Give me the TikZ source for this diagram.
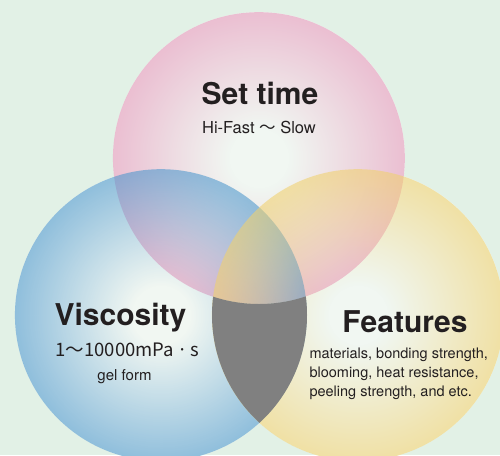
\documentclass[tikz,border=0pt]{standalone}
\usepackage{fontspec}
\setmainfont{TeX Gyre Heros}
\newfontfamily\jpfont{Noto Sans CJK JP}
\usepackage{xcolor}
\usepackage{tikz}
\usetikzlibrary{calc,fadings}
\definecolor{bgmint}{RGB}{226,241,230}
\definecolor{ballcore}{RGB}{241,247,242}
\definecolor{pinkrim}{RGB}{231,151,187}
\definecolor{bluerim}{RGB}{75,151,205}
\definecolor{yellowrim}{RGB}{240,209,110}
\definecolor{inkdark}{RGB}{35,31,32}
\definecolor{lensgray}{RGB}{128,128,128}
\pgfdeclareradialshading{rimshade}{\pgfpoint{0bp}{0bp}}{color(0bp)=(black); color(5bp)=(black); color(34bp)=(white); color(50bp)=(white)}
\pgfdeclarefading{rimfade}{\pgfuseshading{rimshade}}

\begin{document}
\begin{tikzpicture}[x=1pt,y=-1pt,
	ball/.style={fill opacity=0.85,path fading=rimfade},
	title/.style={font=\fontsize{30}{34}\selectfont\bfseries,text=inkdark,anchor=base},
	info/.style={font=\fontsize{16.5}{19}\selectfont,text=inkdark,anchor=base}]
	\useasboundingbox[fill=bgmint] (0,0) rectangle (500,455);
	\coordinate (T) at (259,158);
	\coordinate (L) at (161,315);
	\coordinate (R) at (358,315);
	\fill[ballcore] (T) circle (146pt) (L) circle (146pt) (R) circle (146pt);
	\fill[ball,pinkrim] (T) circle (146pt);
	\fill[ball,bluerim] (L) circle (146pt);
	\fill[ball,yellowrim] (R) circle (146pt);
	\begin{scope}
		\clip (L) circle (146pt);
		\clip (R) circle (146pt);
		\fill[lensgray,even odd rule] (T) circle (146pt) (0,0) rectangle (500,455);
	\end{scope}
	\node[title] (settime) at (260,104) {Set time};
	\node[info] (speed) at (259,133) {Hi-Fast {\jpfont 〜} Slow};
	\node[title] (viscosity) at (120.5,325) {Viscosity};
	\node[info,font=\fontsize{18.5}{20}\jpfont] (range) at (127.5,356) {1〜10000mPa\,·\,s};
	\node[info,font=\fontsize{15}{18}\selectfont] (gel) at (124.5,380) {gel form};
	\node[title] (features) at (405,332) {Features};
	\node[info,font=\fontsize{14.5}{18}\selectfont,anchor=base west] (feat1) at (306,358) {materials, bonding strength,};
	\node[info,font=\fontsize{14.5}{18}\selectfont,anchor=base west] (feat2) at (306,377) {blooming, heat resistance,};
	\node[info,font=\fontsize{14.5}{18}\selectfont,anchor=base west] (feat3) at (306,396) {peeling strength, and etc.};
\end{tikzpicture}
\end{document}
